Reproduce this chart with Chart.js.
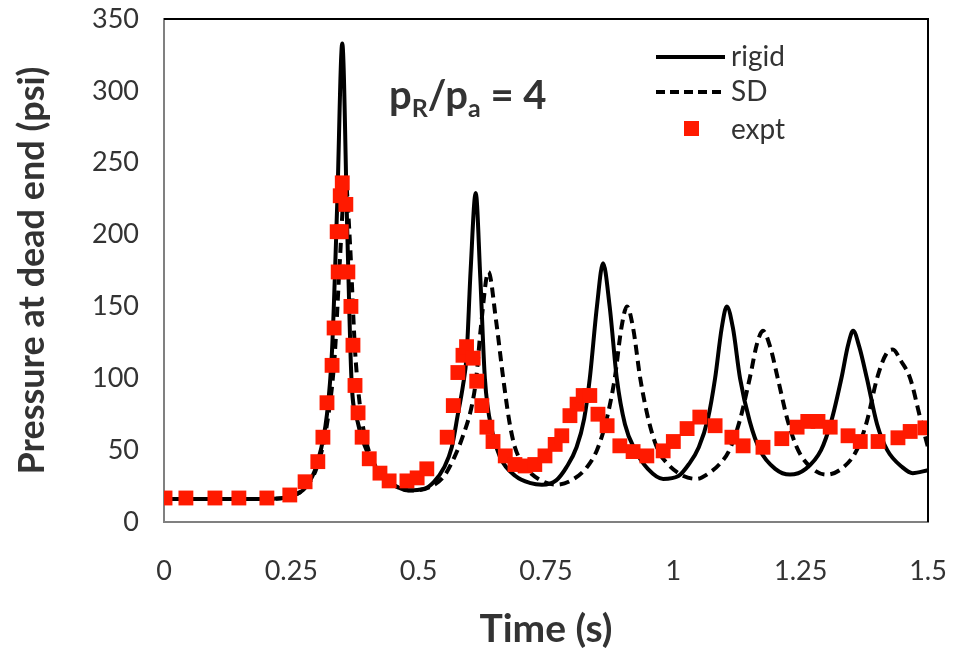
<!DOCTYPE html>
<html>
<head>
<meta charset="utf-8">
<script src="https://cdn.jsdelivr.net/npm/chart.js@4"></script>
<style>
  html, body { margin: 0; padding: 0; background: #fff; }
  #wrap { width: 956px; height: 653px; }
</style>
</head>
<body>
<div id="wrap"><canvas id="myChart" width="956" height="653"></canvas></div>
<script>
// rigid model (time s, pressure psi)
const rigidT = [0, 0.2, 0.25, 0.28, 0.3, 0.32, 0.33, 0.34, 0.35, 0.36, 0.368, 0.38, 0.4, 0.43, 0.46, 0.48, 0.51, 0.53, 0.55, 0.565, 0.577, 0.587, 0.594, 0.602, 0.612, 0.621, 0.63, 0.645, 0.66, 0.69, 0.72, 0.742, 0.77, 0.79, 0.81, 0.825, 0.836, 0.85, 0.862, 0.875, 0.889, 0.905, 0.925, 0.95, 0.98, 1.01, 1.03, 1.05, 1.068, 1.082, 1.095, 1.105, 1.117, 1.131, 1.15, 1.17, 1.2, 1.229, 1.26, 1.29, 1.31, 1.33, 1.343, 1.353, 1.365, 1.38, 1.4, 1.42, 1.45, 1.47, 1.5];
const rigidP = [16, 16, 18, 25, 40, 75, 120, 220, 333, 200, 100, 70, 48, 32, 24, 22, 23, 28, 38, 52, 75, 95, 115, 175, 229, 170, 100, 62, 45, 32, 27, 26, 29, 38, 52, 72, 100, 150, 180, 150, 100, 68, 50, 37, 30, 32, 40, 52, 72, 100, 135, 150, 135, 100, 70, 50, 37, 33, 37, 50, 70, 100, 123, 133, 122, 100, 68, 50, 38, 34, 36];

// SD model
const sdT = [0, 0.2, 0.25, 0.28, 0.3, 0.32, 0.335, 0.345, 0.356, 0.365, 0.375, 0.385, 0.4, 0.43, 0.46, 0.49, 0.52, 0.55, 0.57, 0.585, 0.605, 0.613, 0.622, 0.637, 0.652, 0.666, 0.678, 0.689, 0.71, 0.74, 0.77, 0.8, 0.83, 0.85, 0.868, 0.885, 0.898, 0.909, 0.921, 0.935, 0.952, 0.97, 0.99, 1.02, 1.046, 1.07, 1.09, 1.11, 1.13, 1.15, 1.165, 1.176, 1.19, 1.205, 1.225, 1.245, 1.27, 1.3, 1.33, 1.36, 1.38, 1.4, 1.418, 1.431, 1.447, 1.465, 1.485, 1.5];
const sdP = [16, 16, 18, 25, 38, 68, 115, 180, 238, 195, 120, 80, 52, 32, 24, 22, 24, 32, 45, 58, 82, 100, 135, 174, 140, 100, 70, 52, 38, 29, 26, 29, 38, 50, 70, 100, 135, 150, 135, 100, 70, 50, 40, 32, 30, 34, 40, 50, 70, 100, 125, 133, 122, 100, 70, 50, 38, 33, 37, 50, 70, 100, 117, 120, 112, 100, 72, 52];

// experiment
const exptT = [0.002, 0.043, 0.1, 0.147, 0.202, 0.247, 0.277, 0.302, 0.312, 0.32, 0.33, 0.334, 0.342, 0.34, 0.346, 0.35, 0.357, 0.348, 0.361, 0.367, 0.371, 0.375, 0.381, 0.389, 0.403, 0.424, 0.442, 0.477, 0.497, 0.516, 0.556, 0.568, 0.577, 0.587, 0.594, 0.607, 0.614, 0.624, 0.634, 0.646, 0.67, 0.689, 0.709, 0.728, 0.748, 0.768, 0.781, 0.797, 0.811, 0.823, 0.836, 0.852, 0.87, 0.895, 0.921, 0.948, 0.98, 1.0, 1.027, 1.052, 1.082, 1.115, 1.137, 1.176, 1.213, 1.243, 1.264, 1.284, 1.308, 1.343, 1.367, 1.402, 1.441, 1.465, 1.494];
const exptP = [16.7, 16.7, 16.7, 16.7, 16.7, 18.8, 28, 42, 59, 83, 109, 135, 174, 202, 227, 236, 221, 202, 174, 150, 123, 95, 76, 59, 44, 34, 28.6, 28.6, 30.7, 37, 59, 81, 104, 116, 122, 114, 98, 81, 66, 56, 46, 40, 39, 40, 46, 54, 60, 74, 82, 88, 88, 75, 67, 53, 49, 46, 49.5, 56, 65, 73, 67, 59, 53, 52, 58, 66, 70, 70, 66, 60, 56, 56, 58.6, 63, 65.5];

const xTicks = ['0', '0.25', '0.5', '0.75', '1', '1.25', '1.5'];
const yTicks = [0, 50, 100, 150, 200, 250, 300, 350];

const toXY = (ts, ps) => ts.map((t, i) => ({ x: t, y: ps[i] }));

const txt = '#333333';
const fam = 'Lato, "Open Sans", sans-serif';

// legend + p_R/p_a label drawn inside the plot
const extras = {
  id: 'extras',
  afterDraw(chart) {
    const c = chart.ctx;
    c.save();
    const a = chart.chartArea;
    c.strokeStyle = '#000';
    c.lineWidth = 2;
    c.beginPath();
    c.moveTo(a.left, a.top); c.lineTo(a.right, a.top); c.lineTo(a.right, a.bottom);
    c.stroke();

    c.font = '28px ' + fam;
    c.fillStyle = txt;
    c.textBaseline = 'middle';
    c.strokeStyle = '#000';
    c.lineWidth = 4;
    c.beginPath(); c.moveTo(656, 57); c.lineTo(725, 57); c.stroke();
    c.fillText('rigid', 731, 57);
    c.setLineDash([9, 5]);
    c.beginPath(); c.moveTo(656, 92); c.lineTo(725, 92); c.stroke();
    c.setLineDash([]);
    c.fillText('SD', 731, 92);
    c.fillStyle = '#ff1a00';
    c.fillRect(684, 121, 15, 15);
    c.fillStyle = txt;
    c.fillText('expt', 731, 130);

    // p_R / p_a = 4
    c.font = 'bold 40px ' + fam;
    let x = 389;
    const y = 96;
    c.fillText('p', x, y); x += c.measureText('p').width;
    c.font = 'bold 25px ' + fam;
    c.fillText('R', x, y + 13); x += c.measureText('R').width;
    c.font = 'bold 40px ' + fam;
    c.fillText('/p', x, y); x += c.measureText('/p').width;
    c.font = 'bold 25px ' + fam;
    c.fillText('a', x, y + 13); x += c.measureText('a').width;
    c.font = 'bold 40px ' + fam;
    c.fillText(' = 4', x, y);
    c.restore();
  }
};

new Chart(document.getElementById('myChart'), {
  type: 'line',
  data: {
    datasets: [
      {
        label: 'expt',
        data: toXY(exptT, exptP),
        showLine: false,
        pointStyle: 'rect',
        pointRadius: 10.5,
        pointBackgroundColor: '#ff1a00',
        pointBorderColor: '#ff1a00',
        pointBorderWidth: 0,
        order: 0
      },
      {
        label: 'rigid',
        data: toXY(rigidT, rigidP),
        borderColor: '#000',
        borderWidth: 4,
        pointRadius: 0,
        cubicInterpolationMode: 'monotone',
        order: 1
      },
      {
        label: 'SD',
        data: toXY(sdT, sdP),
        borderColor: '#000',
        borderWidth: 4,
        borderDash: [10, 6],
        pointRadius: 0,
        cubicInterpolationMode: 'monotone',
        order: 2
      }
    ]
  },
  options: {
    responsive: false,
    animation: false,
    layout: { padding: { top: 19, right: 28, left: 0, bottom: 0 } },
    plugins: { legend: { display: false }, tooltip: { enabled: false } },
    scales: {
      x: {
        type: 'linear',
        min: 0, max: 1.5,
        afterBuildTicks(s) { s.ticks = xTicks.map(v => ({ value: parseFloat(v) })); },
        afterFit(s) { s.height = 131; },
        grid: { display: true, drawOnChartArea: false, color: 'transparent', drawTicks: true, tickLength: 33, tickColor: 'transparent' },
        border: { color: '#808080', width: 2 },
        ticks: {
          padding: 0,
          color: txt,
          font: { family: fam, size: 27 },
          callback: (v) => xTicks.find(t => parseFloat(t) === v)
        },
        title: {
          display: true,
          text: 'Time (s)',
          color: txt,
          font: { family: fam, size: 39, weight: 'bold' },
          padding: { top: 0, bottom: 0 }
        }
      },
      y: {
        min: 0, max: 350,
        afterBuildTicks(s) { s.ticks = yTicks.map(v => ({ value: v })); },
        afterFit(s) { s.width = 164; },
        grid: { display: true, drawOnChartArea: false, color: 'transparent', drawTicks: true, tickLength: 25, tickColor: 'transparent' },
        border: { color: '#808080', width: 2 },
        ticks: {
          padding: 0,
          color: txt,
          font: { family: fam, size: 27 }
        },
        title: {
          display: true,
          text: 'Pressure at dead end (psi)',
          color: txt,
          font: { family: fam, size: 36, weight: 'bold' },
          padding: { top: 11, bottom: 0 }
        }
      }
    }
  },
  plugins: [extras]
});
</script>
</body>
</html>
